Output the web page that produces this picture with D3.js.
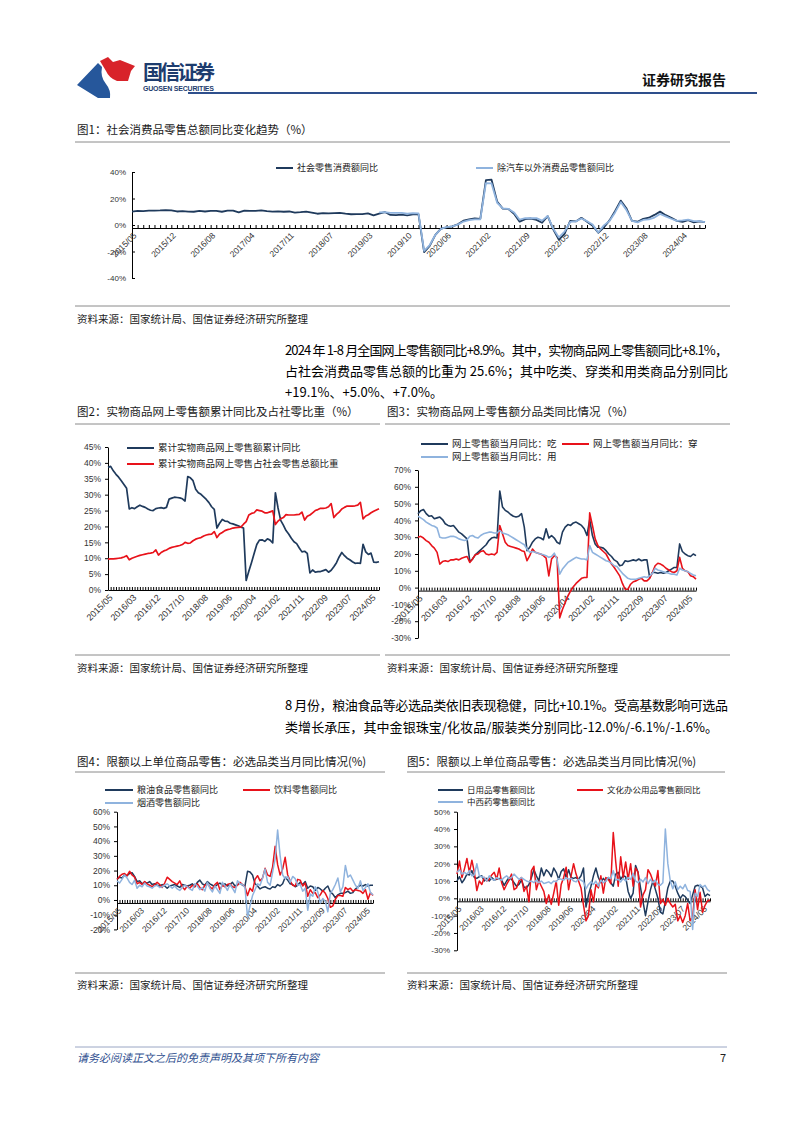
<!DOCTYPE html>
<html><head><meta charset="utf-8">
<script src="https://cdn.jsdelivr.net/npm/d3@7"></script>
<style>
html,body{margin:0;padding:0;background:#fff;}
svg{display:block;font-family:"Noto Sans CJK SC","Noto Sans",sans-serif;}
.tick text{font-family:"Liberation Sans",Arial,sans-serif;}
</style></head><body>
<svg id="page" width="802" height="1133"></svg>
<script>
// ---------- categories (monthly, January merged into Jan-Feb) ----------
const months = [];
for (let yr = 2015; yr <= 2024; yr++) {
  for (let m = 2; m <= 12; m++) {
    if (yr === 2015 && m < 5) continue;
    if (yr === 2024 && m > 8) break;
    months.push(yr + "/" + String(m).padStart(2, "0"));
  }
}
const ticksFig1 = ["2015/05","2015/12","2016/08","2017/04","2017/11","2018/07","2019/03","2019/10","2020/06","2021/02","2021/09","2022/05","2022/12","2023/08","2024/04"];
const ticksFig2to5 = ["2015/05","2016/03","2016/12","2017/10","2018/08","2019/06","2020/04","2021/02","2021/11","2022/09","2023/07","2024/05"];

// ---------- Fig 1 ----------
const retailYoY = [
 10.1,10.6,10.5,10.8,10.9,11.0,11.2,11.1,
 10.2,10.5,10.1,10.0,10.6,10.2,10.6,10.7,10.0,10.8,10.9,
 9.5,10.9,10.7,10.7,11.0,10.4,10.1,10.3,10.0,10.2,9.4,
 9.7,10.1,9.4,8.5,9.0,8.8,9.0,9.2,8.6,8.1,8.2,
 8.2,8.7,7.2,8.6,9.8,7.6,7.5,7.8,7.2,8.0,8.0,
 -20.5,-15.8,-7.5,-2.8,-1.8,-1.1,0.5,3.3,4.3,5.0,4.6,
 33.8,34.2,17.7,12.4,12.1,8.5,2.5,4.4,4.9,3.9,1.7,
 6.7,-3.5,-11.1,-6.7,3.1,2.7,5.4,2.5,-0.5,-5.9,-1.8,
 3.5,10.6,18.4,12.7,3.1,2.5,4.6,5.5,7.6,10.1,7.4,
 5.5,3.1,2.3,3.7,2.0,2.7,2.1];
const exAutoYoY = [
 null,null,null,null,null,null,null,null,
 null,null,null,null,null,null,null,null,null,null,null,
 null,null,null,null,null,null,null,null,null,null,null,
 null,null,null,null,null,null,null,null,null,null,null,
 null,null,null,9.5,9.7,9.2,9.1,9.2,8.5,9.0,8.8,
 -19.6,-15.1,-7.4,-2.9,-1.6,-1.0,0.3,2.6,3.6,4.3,4.2,
 31.6,31.4,16.8,12.6,12.2,9.5,4.0,5.1,5.1,5.2,3.3,
 6.8,-2.9,-9.4,-4.9,2.3,2.7,4.9,2.9,0.3,-5.6,-0.3,
 3.0,9.5,17.3,11.4,3.1,2.0,3.8,4.2,5.6,8.3,6.5,
 4.7,3.1,3.5,4.0,2.9,2.9,2.1];

// ---------- Fig 2 ----------
const onlineCumYoY = [
 38.6,38.9,37.5,36.4,35.5,34.4,33.2,32.0,
 25.5,25.9,25.6,26.2,26.7,26.3,26.0,25.5,25.1,25.0,25.6,
 25.8,25.9,25.7,26.0,28.6,28.9,29.2,29.1,29.0,28.7,28.0,
 35.7,35.3,34.4,31.7,30.6,30.1,29.3,28.5,27.5,26.2,25.4,
 19.5,21.0,22.2,21.7,21.6,21.0,20.8,20.5,20.2,19.8,19.5,
 3.0,5.9,8.6,11.5,14.3,15.7,15.8,15.3,16.1,15.7,14.8,
 30.6,25.8,21.9,20.4,18.7,17.6,16.3,15.2,14.6,13.2,12.0,
 12.2,11.5,5.4,6.3,5.6,5.8,5.8,6.1,6.4,5.6,6.2,
 7.3,8.6,10.4,11.8,10.8,10.0,9.5,8.9,8.4,8.5,8.4,
 14.4,12.0,11.2,11.6,8.8,8.7,8.9];
const onlineShare = [
 9.7,9.8,9.8,9.9,10.0,10.1,10.4,10.8,
 9.5,10.0,10.3,10.6,10.9,11.1,11.3,11.5,11.6,11.8,12.6,
 11.0,11.8,12.3,12.6,13.1,13.4,13.6,13.8,14.0,14.3,15.0,
 14.7,14.8,15.5,16.0,16.3,16.5,17.0,17.3,17.5,17.6,18.4,
 16.5,17.6,18.1,18.7,19.0,19.2,19.5,19.6,19.7,19.8,20.7,
 21.5,23.6,24.1,24.3,25.2,25.0,24.8,24.3,24.3,24.6,24.9,
 20.6,21.7,22.4,22.8,23.7,23.6,23.6,23.6,23.7,23.8,24.5,
 22.0,23.2,23.6,24.3,25.0,25.3,25.7,25.7,25.8,26.2,27.2,
 22.8,23.8,24.5,25.5,26.0,26.4,26.4,26.4,26.5,26.7,27.6,
 22.4,23.3,23.7,24.3,24.8,25.2,25.6];

// ---------- Fig 3 ----------
const onlineEat = [
 44.0,45.8,46.5,44.0,42.5,42.8,41.0,41.5,
 42.0,40.5,38.0,37.0,36.5,37.0,35.0,33.0,32.0,30.5,29.0,
 15.5,17.0,19.5,21.0,22.5,24.0,25.5,28.0,29.5,30.0,29.5,
 57.5,48.0,46.0,45.0,43.5,42.5,42.0,42.5,44.0,36.0,22.0,
 24.0,27.0,29.0,30.0,29.5,28.5,35.0,29.5,31.0,29.5,27.0,
 26.0,33.0,36.0,37.5,37.0,38.5,39.0,38.0,37.0,35.0,31.0,
 40.5,31.0,26.0,24.0,24.0,23.5,22.0,20.0,18.5,16.5,15.5,
 13.0,13.5,16.0,15.5,16.0,16.5,16.0,17.0,16.0,16.5,16.5,
 6.0,9.0,9.0,8.5,9.0,8.5,9.0,10.0,11.0,12.0,12.0,
 26.0,21.5,20.0,19.0,18.5,20.0,19.0];
const onlineWear = [
 30.0,30.5,29.5,28.0,27.0,25.0,23.5,21.0,
 14.0,15.5,16.0,15.5,16.5,16.5,17.0,16.5,17.5,18.0,18.5,
 15.0,17.0,19.5,20.0,21.5,22.0,20.0,19.5,20.0,19.5,21.0,
 37.0,32.0,27.0,25.0,24.5,24.0,23.5,23.0,22.0,21.5,16.0,
 19.0,23.0,21.0,20.5,20.0,19.0,17.5,7.0,17.0,19.0,18.0,
 -18.0,-13.0,-9.0,-5.0,-2.0,0.5,2.5,4.0,5.5,6.0,6.0,
 44.5,37.0,29.0,25.0,23.0,21.5,20.0,17.0,14.0,12.0,9.5,
 7.0,2.5,-1.0,-1.0,2.0,3.5,4.0,5.0,5.5,4.0,4.0,
 5.5,9.0,13.0,14.5,14.0,13.0,11.5,10.5,9.5,9.0,10.0,
 18.0,11.5,10.0,9.5,7.0,6.5,5.0];
const onlineUse = [
 42.5,41.5,40.5,39.0,38.0,37.0,36.5,35.5,
 30.0,29.5,29.5,30.0,30.5,30.5,30.0,29.0,28.5,28.0,28.5,
 30.5,31.0,30.0,29.5,31.0,32.0,32.5,33.0,33.0,32.5,32.5,
 34.0,32.5,32.0,31.5,30.5,29.5,28.5,27.5,26.5,25.5,23.0,
 21.0,21.5,21.0,20.5,20.0,19.5,19.0,18.0,18.5,20.5,17.0,
 8.0,11.0,13.0,15.0,16.0,17.0,18.0,17.5,17.0,17.0,16.5,
 25.0,21.0,20.0,19.0,18.0,17.0,16.0,15.5,14.5,13.0,12.5,
 10.5,8.5,7.0,5.5,5.0,5.0,5.0,5.5,6.0,6.5,6.0,
 7.0,8.5,11.5,10.5,10.0,9.5,9.0,8.5,8.0,8.0,7.5,
 11.5,10.5,10.0,9.5,8.5,7.5,7.0];

// ---------- Fig 4 ----------
const grainOil = [
 14.0,15.5,15.0,17.0,16.5,18.0,18.5,16.0,
 12.5,13.0,11.0,12.0,11.5,12.5,10.5,11.0,10.0,9.5,10.5,
 9.5,8.0,9.5,10.0,10.5,9.5,8.5,10.5,10.0,9.5,10.0,
 11.0,9.0,12.0,13.5,11.0,10.0,12.5,11.0,10.0,9.0,10.5,
 11.5,10.0,11.0,9.5,10.5,12.0,9.5,10.5,11.5,10.0,9.5,
 19.5,19.0,17.0,11.0,9.5,7.5,8.5,9.0,8.0,7.5,9.0,
 8.5,10.5,9.5,11.0,15.5,13.5,11.0,10.5,9.0,10.0,12.0,
 10.5,12.5,8.0,9.5,9.0,6.5,8.5,7.5,6.0,8.0,9.5,
 5.5,4.0,1.5,3.5,4.5,4.5,5.0,6.0,4.5,5.0,7.5,
 9.0,10.0,9.5,10.5,9.5,10.0,10.0];
const beverage = [
 14.0,16.0,17.5,18.0,16.5,19.5,17.0,15.5,
 11.0,12.0,10.5,12.5,11.0,10.0,9.0,10.5,12.0,10.5,8.5,
 11.5,15.5,14.0,12.5,11.5,10.5,13.0,9.0,7.0,9.5,8.0,
 10.0,9.0,11.0,8.5,7.0,10.0,11.0,9.0,7.5,10.5,12.0,
 7.0,10.0,9.0,10.5,11.0,9.0,8.5,10.0,12.0,10.5,9.0,
 3.0,8.0,6.0,14.0,16.5,13.0,15.0,21.5,17.0,16.0,22.5,
 36.5,24.0,17.0,21.0,29.0,17.0,13.0,10.0,9.5,14.0,13.5,
 9.5,11.5,2.5,7.0,4.5,5.0,1.5,3.5,6.5,4.5,1.0,
 -5.0,-4.0,0.5,3.0,3.0,2.5,8.5,7.0,8.0,6.0,7.0,
 6.5,6.0,4.5,7.0,0.5,5.0,3.0];
const tobaccoLiquor = [
 13.0,11.5,14.0,17.0,15.0,12.0,10.5,13.5,
 8.0,10.0,9.0,11.5,9.5,9.0,8.0,9.5,10.0,8.5,9.0,
 10.0,11.0,9.5,8.0,9.5,7.5,6.5,8.5,10.0,9.0,7.5,
 6.5,11.0,9.5,7.0,8.5,6.0,12.0,8.0,5.5,9.5,7.0,
 4.5,12.0,9.5,6.5,10.5,8.0,5.0,13.0,11.0,10.5,8.5,
 -11.5,-4.0,3.0,7.0,11.0,10.0,15.0,21.0,12.0,10.0,19.0,
 28.0,47.5,30.0,17.0,14.5,16.0,12.0,16.0,14.5,10.0,10.5,
 6.0,8.0,-7.0,4.0,2.5,9.0,5.5,-2.0,1.0,-1.0,-8.0,
 4.5,7.0,10.5,15.0,5.5,9.0,23.5,15.5,17.0,13.5,10.0,
 8.0,13.0,6.5,8.5,11.0,5.0,3.5];

// ---------- Fig 5 ----------
const dailyUse = [
 10.0,12.5,9.0,11.0,14.0,13.5,16.0,12.0,
 11.5,12.5,13.0,10.0,11.5,10.0,12.0,10.5,11.0,11.5,10.5,
 7.5,10.0,12.0,11.0,9.0,7.0,8.0,10.5,6.5,6.0,8.0,
 12.0,16.5,13.0,10.0,17.5,13.0,16.5,15.0,12.5,17.5,15.0,
 11.0,15.5,17.0,12.0,16.5,12.0,11.5,12.0,11.0,13.0,17.5,
 -5.0,2.0,7.0,13.0,17.5,12.0,9.0,11.5,10.0,12.0,9.0,
 7.0,14.0,15.0,11.0,13.0,12.5,4.0,0.0,3.0,19.0,15.0,
 6.0,-2.0,-10.0,-2.0,5.0,10.0,5.0,0.0,-8.0,-9.0,-2.0,
 6.0,10.0,10.0,7.0,3.0,0.0,2.0,1.0,-1.0,-3.0,2.0,
 7.0,7.5,7.0,6.0,1.0,2.5,1.5];
const cultureOffice = [
 14.0,21.5,12.0,17.0,23.0,15.0,22.0,15.0,
 4.5,10.0,8.0,12.0,10.0,11.0,13.5,15.0,11.0,17.5,9.0,
 5.0,8.0,10.5,14.0,5.0,6.0,10.0,12.0,4.0,7.0,-2.0,
 16.0,18.5,5.0,10.0,7.0,4.0,-3.0,2.0,-3.5,3.0,10.0,
 -4.0,8.0,12.0,18.0,5.0,13.0,20.0,14.0,10.0,6.0,-4.0,
 -13.0,-10.0,5.0,-2.0,8.0,6.0,13.0,3.0,12.0,11.0,8.5,
 38.0,21.0,7.0,24.0,12.0,21.0,11.0,20.0,7.0,17.5,15.0,
 -5.0,2.0,5.0,16.5,14.0,10.0,7.0,16.0,-3.0,-0.5,-4.0,
 0.0,-3.0,-5.0,-3.5,-13.0,-10.0,-14.0,-10.0,-3.0,-13.0,-11.0,
 5.0,-6.5,3.5,-8.0,-4.0,-1.5,-1.0];
const medicine = [
 15.0,16.5,14.0,15.0,14.0,16.0,13.0,13.5,
 20.0,13.0,12.5,12.0,10.0,13.0,11.0,10.5,12.0,11.0,10.5,
 12.0,13.0,11.5,12.0,14.0,12.5,11.0,12.0,11.0,10.0,9.5,
 10.0,9.0,10.5,9.0,10.0,8.5,9.0,9.5,8.5,10.0,9.5,
 11.5,11.0,10.5,12.0,11.0,11.5,10.0,9.5,11.0,10.5,9.5,
 5.5,8.0,9.5,8.0,10.0,7.0,10.5,9.0,10.0,12.0,11.5,
 16.0,10.5,11.0,9.5,11.5,10.0,12.0,11.0,14.5,10.0,9.0,
 11.0,9.5,12.0,8.5,11.0,9.0,10.5,8.0,7.5,9.0,40.0,
 20.0,10.0,5.5,9.5,5.0,7.0,5.5,8.0,4.5,4.0,-18.0,
 3.0,1.0,8.0,6.5,7.5,5.0,4.0];

// ---------- drawing ----------
const DARK = "#1f3a5c", RED = "#e8121a", LIGHT = "#8fb3de";
const svg = d3.select("#page");
svg.append("rect").attr("width",802).attr("height",1133).attr("fill","#fff");

// header
svg.append("path").attr("d","M77,85 L98,63 L102,67 Q100,77 106,84 Q111,90 110,98 L98,98 Z").attr("fill","#26579b");
svg.append("path").attr("d","M100,61 L108,57 L113,62 L120,60 L135,66 L131,71 L128,81 L117,81 Q109,78 106,71 Z").attr("fill","#d8232a");
svg.append("text").attr("x",143).attr("y",80).attr("font-size",20).attr("font-weight",700).attr("fill","#1d3c6e").attr("textLength",72).text("国信证券");
svg.append("text").attr("x",143).attr("y",91).attr("font-size",7).attr("font-weight",700).attr("fill","#1d3c6e").attr("font-family","Liberation Sans, Arial").attr("textLength",71).text("GUOSEN SECURITIES");
svg.append("text").attr("x",726).attr("y",85).attr("text-anchor","end").attr("font-size",14).attr("font-weight",700).attr("fill","#111").text("证券研究报告");
svg.append("line").attr("x1",188).attr("x2",757).attr("y1",93).attr("y2",93).attr("stroke","#2e4f8c").attr("stroke-width",2);

function rule(x1,x2,y,color){svg.append("line").attr("x1",x1).attr("x2",x2).attr("y1",y).attr("y2",y).attr("stroke",color||"#8a8a8a").attr("stroke-width",1);}
function txt(x,y,s,size,opts){const t=svg.append("text").attr("x",x).attr("y",y).attr("font-size",size).attr("fill",(opts&&opts.fill)||"#1a1a1a").text(s);
  if(opts&&opts.len) t.attr("textLength",opts.len).attr("lengthAdjust","spacing");
  if(opts&&opts.italic) t.attr("font-style","italic");
  if(opts&&opts.anchor) t.attr("text-anchor",opts.anchor);
  return t;}

// titles, rules, sources
txt(77,134,"图1：社会消费品零售总额同比变化趋势（%）",11.5); rule(75,730,142);
rule(75,730,306); txt(77,323,"资料来源：国家统计局、国信证券经济研究所整理",10.5);

txt(285,355,"2024 年 1-8 月全国网上零售额同比+8.9%。其中，实物商品网上零售额同比+8.1%，",13,{len:443,fill:"#000"});
txt(285,376,"占社会消费品零售总额的比重为 25.6%；其中吃类、穿类和用类商品分别同比",13,{len:443,fill:"#000"});
txt(285,397,"+19.1%、+5.0%、+7.0%。",13,{fill:"#000"});

txt(77,416,"图2：实物商品网上零售额累计同比及占社零比重（%）",11.5); rule(75,380,424);
txt(387,416,"图3：实物商品网上零售额分品类同比情况（%）",11.5); rule(385,730,424);
rule(75,380,655); rule(385,730,655);
txt(77,672,"资料来源：国家统计局、国信证券经济研究所整理",10.5);
txt(387,672,"资料来源：国家统计局、国信证券经济研究所整理",10.5);

txt(285,710,"8 月份，粮油食品等必选品类依旧表现稳健，同比+10.1%。受高基数影响可选品",13,{len:443,fill:"#000"});
txt(285,732,"类增长承压，其中金银珠宝/化妆品/服装类分别同比-12.0%/-6.1%/-1.6%。",13,{len:433,fill:"#000"});

txt(77,766,"图4：限额以上单位商品零售：必选品类当月同比情况(%)",11.5); rule(75,385,772);
txt(407,766,"图5：限额以上单位商品零售：必选品类当月同比情况(%)",11.5); rule(407,725,772);
rule(75,385,973); rule(407,727,973);
txt(77,989,"资料来源：国家统计局、国信证券经济研究所整理",10.5);
txt(407,989,"资料来源：国家统计局、国信证券经济研究所整理",10.5);

// footer
rule(75,727,1047,"#9aa6c4");
txt(77,1062,"请务必阅读正文之后的免责声明及其项下所有内容",11,{italic:true,fill:"#2f4f8f"});
txt(726,1062,"7",11,{anchor:"end",fill:"#222"});

function drawChart(o){
  const g = svg.append("g");
  const x = d3.scalePoint().domain(months).range([o.x0,o.x1]);
  const y = d3.scaleLinear().domain(o.yDomain).range(o.yRange);
  const axisY = y(0) + o.axisOff;
  // y axis
  const ya = g.append("g").attr("transform",`translate(${o.x0},0)`)
    .call(d3.axisLeft(y).tickValues(o.yTicks).tickSizeInner(o.yTickIn ? -3 : 3).tickSizeOuter(0).tickPadding(o.yTickIn?6:4).tickFormat(d=>d+"%"));
  ya.selectAll("text").attr("font-size",o.yFont||o.tickFont).attr("fill","#333");
  ya.selectAll("line,path").attr("stroke","#000");
  // x axis
  const xa = g.append("g").attr("transform",`translate(0,${axisY})`)
    .call(d3.axisBottom(x).tickValues(months.filter((m,i)=>i%o.tickEvery===0)).tickSizeInner(-3).tickSizeOuter(0).tickFormat(""));
  xa.selectAll("line,path").attr("stroke","#000");
  g.selectAll(".xl").data(o.xLabels).join("text")
    .attr("transform",d=>`translate(${x(d)+3},${axisY+6}) rotate(-45)`)
    .attr("text-anchor","end").attr("dy","0.35em")
    .attr("font-size",o.tickFont).attr("fill","#333")
    .attr("font-family","Liberation Sans, Arial, sans-serif").text(d=>d);
  // lines
  const line = d3.line().defined(v=>v!=null).x((v,i)=>x(months[i])).y(v=>y(v));
  o.series.forEach(s=>{
    g.append("path").datum(s.data).attr("d",line).attr("fill","none")
      .attr("stroke",s.color).attr("stroke-width",o.lw).attr("stroke-linejoin","round");
  });
  // legend
  o.legend.forEach(l=>{
    g.append("line").attr("x1",l.x).attr("x2",l.x+l.len).attr("y1",l.y).attr("y2",l.y)
      .attr("stroke",l.color).attr("stroke-width",2);
    g.append("text").attr("x",l.x+l.len+4).attr("y",l.y).attr("dy","0.35em")
      .attr("font-size",o.legFont).attr("fill","#222").text(l.label);
  });
}

drawChart({x0:132,x1:705,yDomain:[-40,40],yRange:[278,172],yTicks:[-40,-20,0,20,40],axisOff:3,
  tickEvery:1,xLabels:ticksFig1,tickFont:8.5,yFont:8,legFont:9,lw:1.8,yTickIn:true,
  series:[{data:retailYoY,color:DARK},{data:exAutoYoY,color:LIGHT}],
  legend:[{x:276,y:168,len:17,color:DARK,label:"社会零售消费额同比"},{x:476,y:168,len:17,color:LIGHT,label:"除汽车以外消费品零售额同比"}]});

drawChart({x0:108,x1:379,yDomain:[0,45],yRange:[590,447],yTicks:[0,5,10,15,20,25,30,35,40,45],axisOff:0,
  tickEvery:1,xLabels:ticksFig2to5,tickFont:9,yFont:8.5,legFont:9.5,lw:1.7,
  series:[{data:onlineCumYoY,color:DARK},{data:onlineShare,color:RED}],
  legend:[{x:127,y:448,len:27,color:DARK,label:"累计实物商品网上零售额累计同比"},{x:127,y:464,len:27,color:RED,label:"累计实物商品网上零售占社会零售总额比重"}]});

drawChart({x0:418,x1:696,yDomain:[-30,70],yRange:[638,470],yTicks:[-30,-20,-10,0,10,20,30,40,50,60,70],axisOff:3,
  tickEvery:1,xLabels:ticksFig2to5,tickFont:9,yFont:8.5,legFont:9.5,lw:1.6,
  series:[{data:onlineEat,color:DARK},{data:onlineWear,color:RED},{data:onlineUse,color:LIGHT}],
  legend:[{x:421,y:444,len:27,color:DARK,label:"网上零售额当月同比：吃"},{x:562,y:444,len:27,color:RED,label:"网上零售额当月同比：穿"},{x:421,y:457,len:27,color:LIGHT,label:"网上零售额当月同比：用"}]});

drawChart({x0:117,x1:373,yDomain:[-20,60],yRange:[929.4,811.7],yTicks:[-20,-10,0,10,20,30,40,50,60],axisOff:3,
  tickEvery:1,xLabels:ticksFig2to5,tickFont:8.5,yFont:8.5,legFont:9,lw:1.5,
  series:[{data:grainOil,color:DARK},{data:beverage,color:RED},{data:tobaccoLiquor,color:LIGHT}],
  legend:[{x:105,y:790,len:28,color:DARK,label:"粮油食品零售额同比"},{x:243,y:790,len:27,color:RED,label:"饮料零售额同比"},{x:105,y:803,len:28,color:LIGHT,label:"烟酒零售额同比"}]});

drawChart({x0:457,x1:710,yDomain:[-30,50],yRange:[950.3,811.7],yTicks:[-30,-20,-10,0,10,20,30,40,50],axisOff:3,
  tickEvery:1,xLabels:ticksFig2to5,tickFont:8.5,yFont:8,legFont:8.5,lw:1.5,
  series:[{data:dailyUse,color:DARK},{data:cultureOffice,color:RED},{data:medicine,color:LIGHT}],
  legend:[{x:438,y:790,len:25,color:DARK,label:"日用品零售额同比"},{x:577,y:790,len:26,color:RED,label:"文化办公用品零售额同比"},{x:438,y:802,len:25,color:LIGHT,label:"中西药零售额同比"}]});
</script>
</body></html>
